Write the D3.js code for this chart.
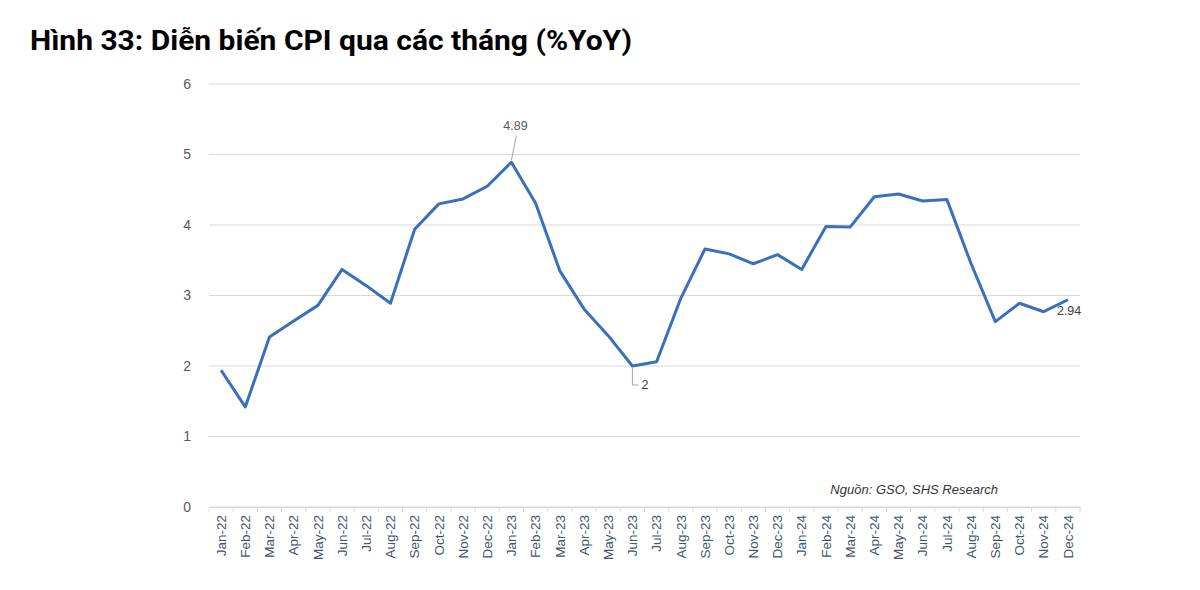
<!DOCTYPE html>
<html><head><meta charset="utf-8">
<script src="https://cdn.jsdelivr.net/npm/d3@7"></script>
<style>
body{margin:0;background:#fff;}
svg{display:block;}
</style></head>
<body>
<svg id="c" width="1200" height="590"></svg>
<script>
const months = ["Jan-22","Feb-22","Mar-22","Apr-22","May-22","Jun-22","Jul-22","Aug-22","Sep-22","Oct-22","Nov-22","Dec-22",
"Jan-23","Feb-23","Mar-23","Apr-23","May-23","Jun-23","Jul-23","Aug-23","Sep-23","Oct-23","Nov-23","Dec-23",
"Jan-24","Feb-24","Mar-24","Apr-24","May-24","Jun-24","Jul-24","Aug-24","Sep-24","Oct-24","Nov-24","Dec-24"];
const cpi = [1.94,1.42,2.41,2.64,2.86,3.37,3.14,2.89,3.94,4.30,4.37,4.55,
4.89,4.31,3.35,2.81,2.43,2.00,2.06,2.96,3.66,3.59,3.45,3.58,
3.37,3.98,3.97,4.40,4.44,4.34,4.36,3.45,2.63,2.89,2.77,2.94];
const yTicks = [0,1,2,3,4,5,6];
const title = "Hình 33: Diễn biến CPI qua các tháng (%YoY)";
const source = "Nguồn: GSO, SHS Research";

const svg = d3.select("#c");
const L = 209, R = 1080, T = 84, B = 507;
const x = d3.scaleBand().domain(months).range([L, R]).padding(0);
const y = d3.scaleLinear().domain([0, 6]).range([B, T]);

svg.append("text").attr("x", 30).attr("y", 50)
  .attr("font-family", "Roboto, Arial, sans-serif").attr("font-weight", "bold")
  .attr("font-size", 28).attr("fill", "#000")
  .attr("textLength", 602).attr("lengthAdjust", "spacingAndGlyphs").text(title);

// grid
svg.append("g").selectAll("line").data(yTicks).join("line")
  .attr("x1", L).attr("x2", R).attr("y1", d => y(d)).attr("y2", d => y(d))
  .attr("stroke", "#d9d9d9").attr("stroke-width", 1);

// y axis labels
const ya = svg.append("g").attr("transform", `translate(${L},0)`)
  .call(d3.axisLeft(y).tickValues(yTicks).tickSize(0).tickPadding(18).tickFormat(d3.format("d")));
ya.select(".domain").remove();
ya.selectAll("text").attr("font-family", "Arial, 'Liberation Sans', sans-serif").attr("font-size", 14).attr("fill", "#595959");

// x axis
const xa = svg.append("g").attr("transform", `translate(0,${B})`)
  .call(d3.axisBottom(x).tickSize(0).tickPadding(0));
xa.select(".domain").attr("stroke", "#d9d9d9");
xa.selectAll("text")
  .attr("font-family", "Arial, 'Liberation Sans', sans-serif").attr("font-size", 13.5).attr("fill", "#44546a")
  .attr("transform", "rotate(-90)").attr("text-anchor", "end").attr("dy", "0.35em").attr("x", -8).attr("y", 0);
// boundary ticks
const bounds = months.map(m => x(m)).concat([R]);
svg.append("g").selectAll("line").data(bounds).join("line")
  .attr("x1", d => d).attr("x2", d => d).attr("y1", B).attr("y2", B + 5)
  .attr("stroke", "#d9d9d9");

// line
const cx = i => x(months[i]) + x.bandwidth() / 2;
svg.append("path").datum(cpi)
  .attr("fill", "none").attr("stroke", "#3a6fba").attr("stroke-width", 3)
  .attr("stroke-linejoin", "round")
  .attr("d", d3.line().x((d, i) => cx(i)).y(d => y(d)));

// annotations
const font = "Arial, 'Liberation Sans', sans-serif";
const iMax = 12, iMin = 17, iLast = 35;
svg.append("line").attr("x1", cx(iMax)).attr("y1", y(cpi[iMax]) - 2)
  .attr("x2", cx(iMax) + 5).attr("y2", y(cpi[iMax]) - 27).attr("stroke", "#a6a6a6");
svg.append("text").attr("x", cx(iMax) + 4).attr("y", y(cpi[iMax]) - 32)
  .attr("text-anchor", "middle").attr("font-family", font).attr("font-size", 12.5).attr("fill", "#595959")
  .text(cpi[iMax].toFixed(2));
svg.append("path")
  .attr("d", `M${cx(iMin)},${y(cpi[iMin]) + 2} V${y(cpi[iMin]) + 19} H${cx(iMin) + 6}`)
  .attr("fill", "none").attr("stroke", "#a6a6a6");
svg.append("text").attr("x", cx(iMin) + 9).attr("y", y(cpi[iMin]) + 23)
  .attr("font-family", font).attr("font-size", 12.5).attr("fill", "#404040").text(d3.format("")(cpi[iMin]));
svg.append("text").attr("x", cx(iLast) - 11).attr("y", y(cpi[iLast]) + 15)
  .attr("font-family", font).attr("font-size", 12.5).attr("fill", "#404040").text(cpi[iLast].toFixed(2));

// source
svg.append("text").attr("x", 998).attr("y", 494).attr("text-anchor", "end")
  .attr("font-family", font).attr("font-style", "italic").attr("font-size", 13).attr("fill", "#333")
  .text(source);
</script>
</body></html>
